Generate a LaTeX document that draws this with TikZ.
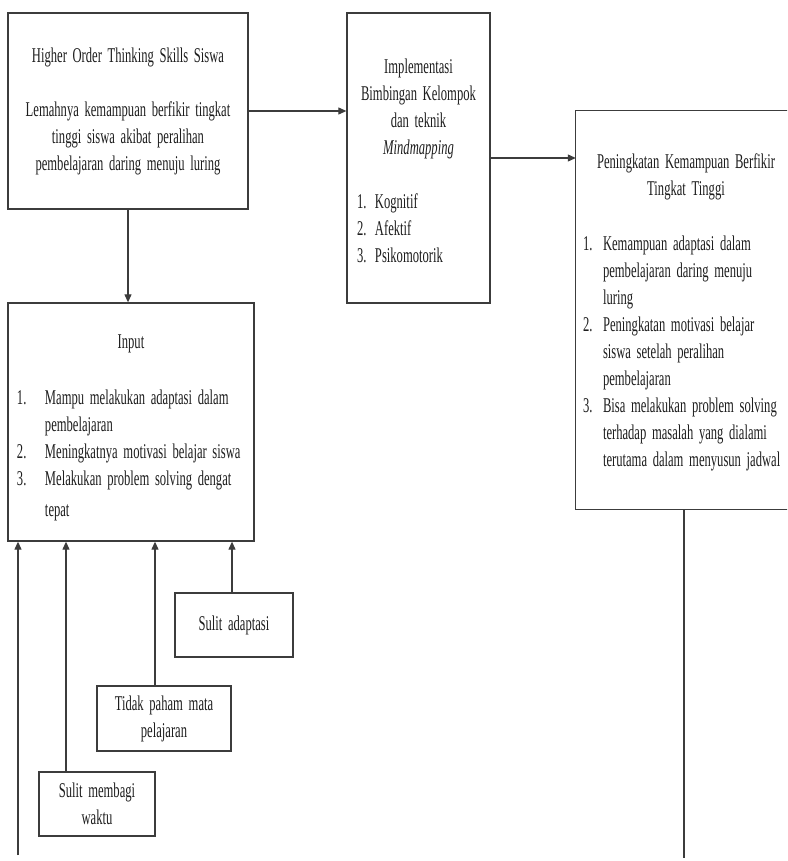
\documentclass[tikz,border=0pt]{standalone}
\usepackage{fontspec}
\setmainfont{Liberation Serif}[FakeStretch=0.6, WordSpace=1.8]
\usetikzlibrary{arrows.meta}
\definecolor{linec}{HTML}{3C3C3C}
\definecolor{textc}{HTML}{1E1E1E}
\newcommand{\numitem}[3]{\hangindent=#1\hangafter=1\noindent\makebox[#1][l]{#2}#3\par}
\begin{document}
\begin{tikzpicture}[x=1pt,y=-1pt,
  every node/.style={font=\fontsize{21}{27}\selectfont, text=textc},
  boxnode/.style={draw=linec, line width=1.3pt, fill=white, rectangle, inner ysep=0pt},
  openbox/.style={rectangle, fill=white, inner ysep=0pt},
  conn/.style={draw=linec, line width=1.1pt},
  arr/.style={conn, -{Triangle[length=8pt,width=7pt]}}
]
\useasboundingbox (0,0) rectangle (787,861);
\fill[white] (0,0) rectangle (787,861);
\clip (0,0) rectangle (787,861);

% Top-left box
\node[boxnode, minimum width=240, minimum height=196, inner xsep=9pt] (hots) at (128,111)
  {\parbox[c]{222pt}{\centering
   Higher Order Thinking Skills Siswa\\[27pt]
   Lemahnya kemampuan berfikir tingkat\\
   tinggi siswa akibat peralihan\\
   pembelajaran daring menuju luring\par}};

% Middle box
\node[boxnode, minimum width=143, minimum height=290, inner xsep=10pt] (impl) at (418.5,158)
  {\parbox[c]{123pt}{\vspace*{6pt}{\centering Implementasi\\ Bimbingan Kelompok\\ dan teknik\\ \textit{Mindmapping}\par}
   \vspace{27pt}
   \raggedright
   \numitem{18pt}{1.}{Kognitif}
   \numitem{18pt}{2.}{Afektif}
   \numitem{18pt}{3.}{Psikomotorik}}};

% Right box (its right side runs past the picture's edge)
\node[openbox, minimum width=250, minimum height=398, inner xsep=7pt] (hasil) at (701,310)
  {\parbox[c]{206pt}{\vspace*{4pt}{\centering Peningkatan Kemampuan Berfikir\\ Tingkat Tinggi\par}
   \vspace{28pt}
   \raggedright
   \numitem{20pt}{1.}{Kemampuan adaptasi dalam\newline pembelajaran daring menuju\newline luring}
   \numitem{20pt}{2.}{Peningkatan motivasi belajar\newline siswa setelah peralihan\newline pembelajaran}
   \numitem{20pt}{3.}{Bisa melakukan problem solving\newline terhadap masalah yang dialami\newline terutama dalam menyusun jadwal}}\hspace*{30pt}};
\draw[draw=linec, line width=1.3pt] (hasil.north east) -- (hasil.north west) -- (hasil.south west) -- (hasil.south east);

% Input box
\node[boxnode, minimum width=246, minimum height=238, inner xsep=9pt] (input) at (131,422)
  {\parbox[c]{228pt}{\vspace*{12pt}{\centering Input\par}
   \vspace{29pt}
   \raggedright
   \numitem{28pt}{1.}{Mampu melakukan adaptasi dalam\newline pembelajaran}
   \numitem{28pt}{2.}{Meningkatnya motivasi belajar siswa}
   \numitem{28pt}{3.}{Melakukan problem solving dengat\vadjust{\kern4pt}\newline tepat}}};

% Bottom boxes
\node[boxnode, minimum width=118, minimum height=64, align=center] (adapt) at (234,625) {Sulit adaptasi};
\node[boxnode, minimum width=134, minimum height=65, align=center] (paham) at (164,718.5) {Tidak paham mata\\ pelajaran};
\node[boxnode, minimum width=116, minimum height=64, align=center] (waktu) at (97,804) {Sulit membagi\\ waktu};

\coordinate (leftend) at (18,855);
\coordinate (rightend) at (684,858);

% Connectors
\draw[arr] (hots.east) -- (hots.east -| impl.west);
\draw[arr] (impl.east) -- (impl.east -| hasil.west);
\draw[arr] (hots.south) -- (hots.south |- input.north);
\draw[arr] ([xshift=-2pt]adapt.north) -- ([xshift=-2pt]adapt.north |- input.south);
\draw[arr] ([xshift=-9pt]paham.north) -- ([xshift=-9pt]paham.north |- input.south);
\draw[arr] ([xshift=-31pt]waktu.north) -- ([xshift=-31pt]waktu.north |- input.south);
\draw[arr] (leftend) -- (leftend |- input.south);
\draw[conn] (rightend |- hasil.south) -- (rightend);
\end{tikzpicture}
\end{document}
